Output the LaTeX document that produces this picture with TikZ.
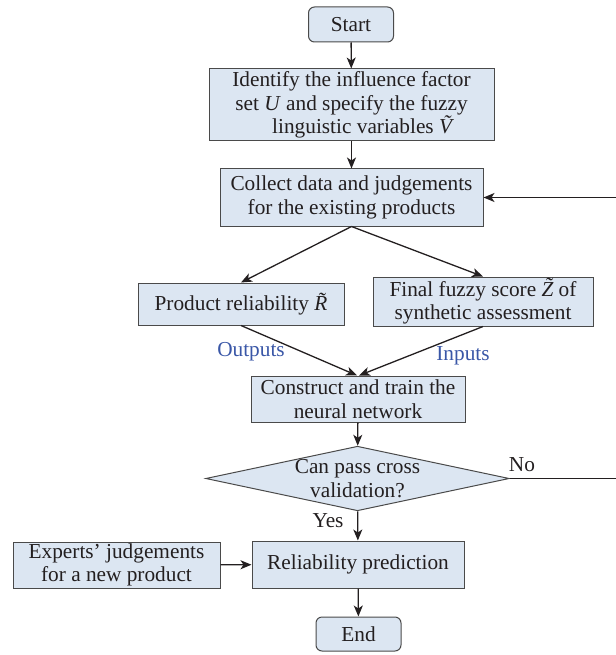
\documentclass[tikz,border=0pt]{standalone}
\usepackage{fontspec}
\setmainfont{Liberation Serif}
\usetikzlibrary{shapes.geometric,arrows.meta}
\definecolor{boxfill}{HTML}{DCE6F2}
\definecolor{boxline}{HTML}{4A4A4A}
\definecolor{lblue}{HTML}{3A57A7}
\definecolor{ink}{HTML}{231F20}
\newcommand{\tl}[1]{{\itshape #1^^^^0303}}
\begin{document}
\begin{tikzpicture}[x=1pt,y=-1pt,
  every node/.style={font=\fontsize{21.3}{23.5}\selectfont, text=ink},
  box/.style={draw=boxline, fill=boxfill, line width=1pt, inner sep=0pt, align=center},
  term/.style={box, rounded corners=6pt},
  dec/.style={draw=boxline, fill=boxfill, line width=1pt, diamond, aspect=4.7, inner sep=0pt, align=center},
  arr/.style={draw=ink, line width=1.3pt, -{Stealth[length=11pt,width=9pt,inset=3pt]}},
  lbl/.style={text=lblue}
]
\useasboundingbox (0,0) rectangle (615,655);
\node[term, minimum width=85pt, minimum height=35pt] (start) at (351,24.5) {Start};
\node[box, minimum width=285pt, minimum height=72pt] (ident) at (351.5,105) {Identify the influence factor\\set \textit{U} and specify the fuzzy\\\quad linguistic variables \tl{V}};
\node[box, minimum width=263pt, minimum height=57pt] (collect) at (351.5,197.5) {Collect data and judgements\\for the existing products};
\node[box, minimum width=206pt, minimum height=42pt] (prod) at (241,304) {Product reliability \tl{R}};
\node[box, minimum width=220pt, minimum height=49pt] (final) at (483,301.5) {Final fuzzy score \tl{Z} of\\synthetic assessment};
\node[box, minimum width=214pt, minimum height=46pt] (nn) at (358,399) {Construct and train the\\neural network};
\node[dec, minimum width=297pt, minimum height=63pt] (cv) at (357.5,478.5) {Can pass cross\\validation?};
\node[box, minimum width=212pt, minimum height=47pt] (pred) at (358,564.5) {Reliability prediction};
\node[box, minimum width=207pt, minimum height=46pt] (exp) at (116.5,565) {Experts' judgements\\for a new product};
\node[term, minimum width=85pt, minimum height=34pt] (end) at (358.5,634) {End};
\node[lbl] (outl) at (251,352) {Outputs};
\node[lbl] (inl) at (463,356) {Inputs};
\node (nol) at (522,465) {No};
\node (yesl) at (328,521) {Yes};
\coordinate (r1) at (622,478.5);
\coordinate (r2) at (622,197.5);
\draw[arr] (start) -- (ident);
\draw[arr] (ident) -- (collect);
\draw[arr] (collect.south) -- (prod.north);
\draw[arr] (collect.south) -- (final.north);
\draw[arr] (prod.south) -- ([xshift=-1pt]nn.north);
\draw[arr] (final.south) -- ([xshift=1pt]nn.north);
\draw[arr] (nn) -- (cv);
\draw[arr] (cv) -- (pred);
\draw[arr] (exp) -- (pred);
\draw[arr] (pred) -- (end);
\draw[arr] (cv.east) -- (r1) -- (r2) -- (collect.east);
\end{tikzpicture}
\end{document}
